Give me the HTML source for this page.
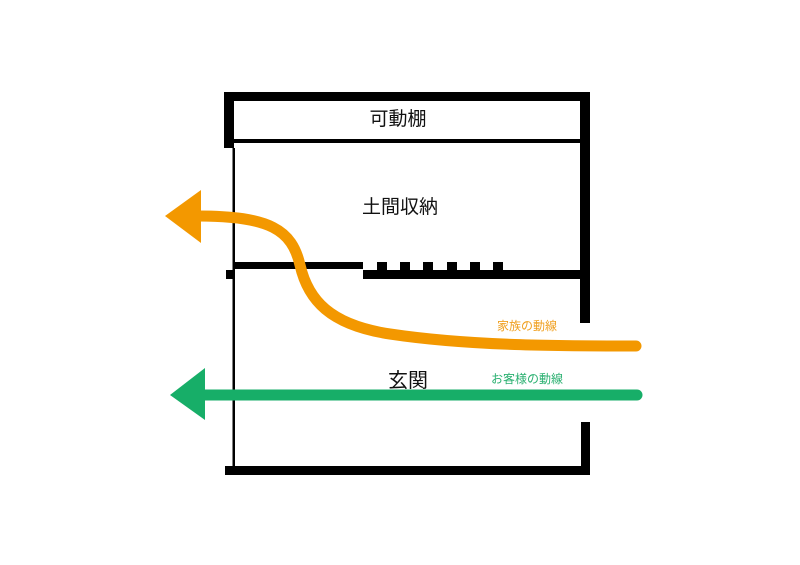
<!DOCTYPE html>
<html><head><meta charset="utf-8"><style>
html,body{margin:0;padding:0;background:#fff;}
svg{display:block;}
text{font-family:"Liberation Sans","Noto Sans CJK JP",sans-serif;}
</style></head><body>
<svg width="800" height="565" viewBox="0 0 800 565">
<rect width="800" height="565" fill="#fff"/>
<!-- walls -->
<rect x="224" y="92" width="366" height="9" fill="#000"/>
<rect x="224" y="92" width="10" height="56" fill="#000"/>
<rect x="232.5" y="148" width="2.5" height="322" fill="#000"/>
<rect x="580" y="92" width="10" height="231" fill="#000"/>
<rect x="581" y="422" width="9" height="53" fill="#000"/>
<rect x="225" y="466" width="365" height="9" fill="#000"/>
<rect x="234" y="139" width="346" height="4" fill="#000"/>
<rect x="234" y="262" width="129" height="7" fill="#000"/>
<rect x="226" y="270" width="8" height="9" fill="#000"/>
<rect x="363" y="270" width="227" height="9" fill="#000"/>
<rect x="377" y="262" width="10" height="9" fill="#000"/>
<rect x="400" y="262" width="10" height="9" fill="#000"/>
<rect x="423" y="262" width="10" height="9" fill="#000"/>
<rect x="447" y="262" width="10" height="9" fill="#000"/>
<rect x="470" y="262" width="10" height="9" fill="#000"/>
<rect x="493" y="262" width="10" height="9" fill="#000"/>
<!-- labels -->
<text x="398" y="125" font-size="19" text-anchor="middle" fill="#111">可動棚</text>
<text x="400" y="213" font-size="19" text-anchor="middle" fill="#111">土間収納</text>
<text x="408" y="387" font-size="20" text-anchor="middle" fill="#111">玄関</text>
<text x="527" y="330" font-size="12" text-anchor="middle" fill="#f0a020">家族の動線</text>
<text x="527" y="383" font-size="12" text-anchor="middle" fill="#2ab070">お客様の動線</text>
<!-- orange path -->
<path d="M636 346 C560 346 470 346 390 334 C330 325 308 300 300 265 C292 230 270 216 198 216" fill="none" stroke="#f39800" stroke-width="11" stroke-linecap="round"/>
<polygon points="165,216 201,190 201,243" fill="#f39800"/>
<!-- green path -->
<line x1="200" y1="395" x2="637" y2="395" stroke="#17ae68" stroke-width="11" stroke-linecap="round"/>
<polygon points="170,395 205,368 205,420" fill="#17ae68"/>
</svg>
</body></html>
